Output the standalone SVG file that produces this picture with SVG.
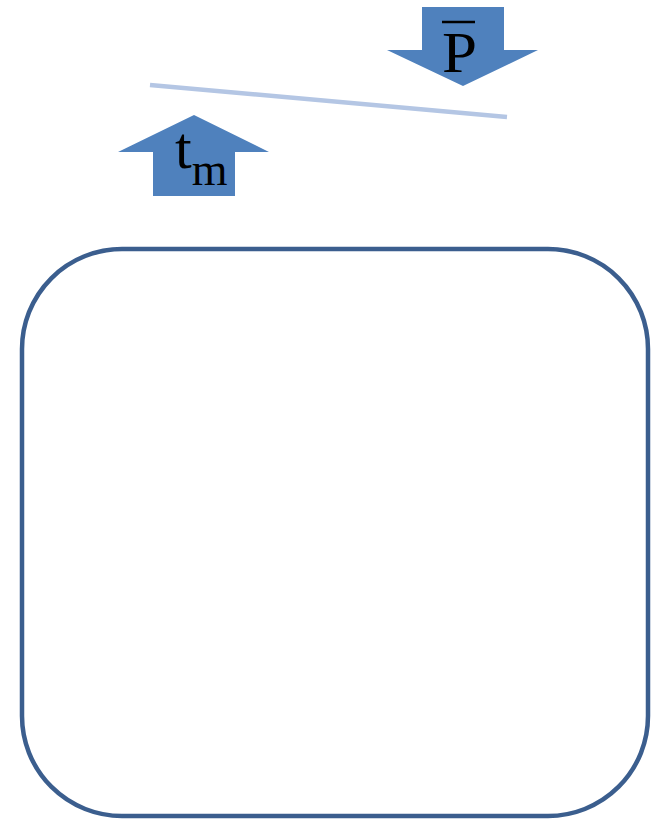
<svg xmlns="http://www.w3.org/2000/svg" width="652" height="821" viewBox="0 0 652 821">
<style>
.arrow{fill:#4f81bd;stroke:none}
.lbl{font-family:"Liberation Serif","Times New Roman",serif;fill:#000}
</style>
<rect width="652" height="821" fill="#fff"/>
<g id="connectors">
<line x1="150" y1="85" x2="507" y2="117" stroke="#b4c6e4" stroke-width="4.5"/>
</g>
<g id="arrow-P">
<polygon class="arrow" points="422,7 504,7 504,50 538,50 463,86 387,50 422,50"/>
<line x1="442" y1="22" x2="475" y2="22" stroke="#000" stroke-width="2.4"/>
<text class="lbl" x="442" y="72" font-size="57" textLength="35" lengthAdjust="spacingAndGlyphs">P</text>
</g>
<g id="arrow-tm">
<polygon class="arrow" points="194,115 269,152 235,152 235,196 153,196 153,152 118,152"/>
<text class="lbl" x="175" y="168" font-size="60">t<tspan font-size="46" y="185">m</tspan></text>
</g>
<g id="box">
<rect x="22" y="249" width="626" height="567" rx="100" ry="100" fill="#fff" stroke="#3b5e8e" stroke-width="4.5"/>
</g>
</svg>
